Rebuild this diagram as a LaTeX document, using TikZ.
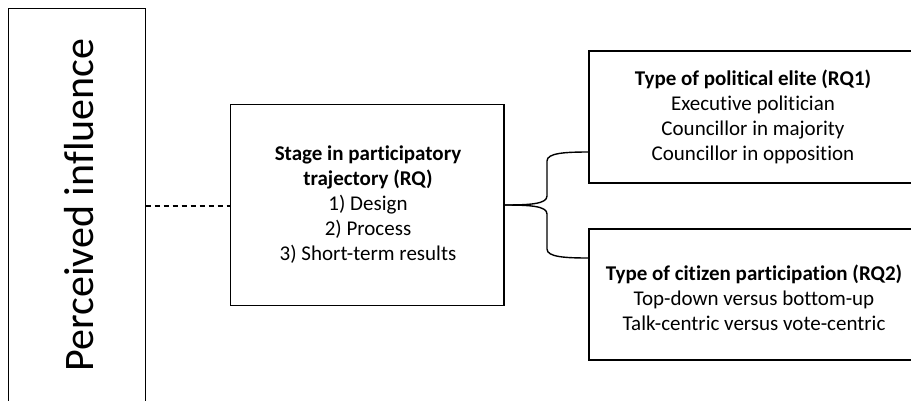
\documentclass[tikz,border=0pt]{standalone}
\usepackage{fontspec}
\setmainfont{Carlito}[RawFeature={-liga}]
\begin{document}
\begin{tikzpicture}[x=1pt,y=-1pt,
  boxline/.style={draw=black,line width=1.4pt},
  txt/.style={align=center,font=\fontsize{21}{25}\selectfont,inner sep=0pt},
  bigtxt/.style={font=\fontsize{42}{48}\selectfont,inner sep=0pt,rotate=90}]
\useasboundingbox (0,0) rectangle (911,400);
\clip (0,0) rectangle (911,400);
% boxes
\draw[boxline] (8.5,8.5) rectangle (145.5,410);
\draw[boxline] (230.5,104.5) rectangle (504,305.5);
\draw[boxline] (589,51) rectangle (930,183);
\draw[boxline] (589,229) rectangle (930,360);
% coordinates for connections
\coordinate (pleft) at (145.5,206);
\coordinate (mleft) at (230.5,206);
\coordinate (mright) at (504,205);
\coordinate (tleft) at (589,152);
\coordinate (bleft) at (589,258);
% texts
\node[bigtxt] (pi) at (79,205) {Perceived influence};
\node[txt] (mid) at (368,205) {\textbf{Stage in participatory}\\\textbf{trajectory (RQ)}\\1) Design\\2) Process\\3) Short-term results};
\node[txt] (top) at (753,117) {\textbf{Type of political elite (RQ1)}\\Executive politician\\Councillor in majority\\Councillor in opposition};
\node[txt] (bot) at (754,298) {\textbf{Type of citizen participation (RQ2)}\\Top-down versus bottom-up\\Talk-centric versus vote-centric};
% dashed connector
\draw[line width=1.2pt,dash pattern=on 5pt off 4pt] (pleft) -- (mleft);
% brace
\draw[line width=1.4pt]
  (mright) .. controls (530,205) and (547,204) .. (547,196)
  -- (547,161) .. controls (547,153) and (565,152) .. (tleft);
\draw[line width=1.4pt]
  (mright) .. controls (530,205) and (547,206) .. (547,214)
  -- (547,249) .. controls (547,257) and (565,258) .. (bleft);
\end{tikzpicture}
\end{document}
